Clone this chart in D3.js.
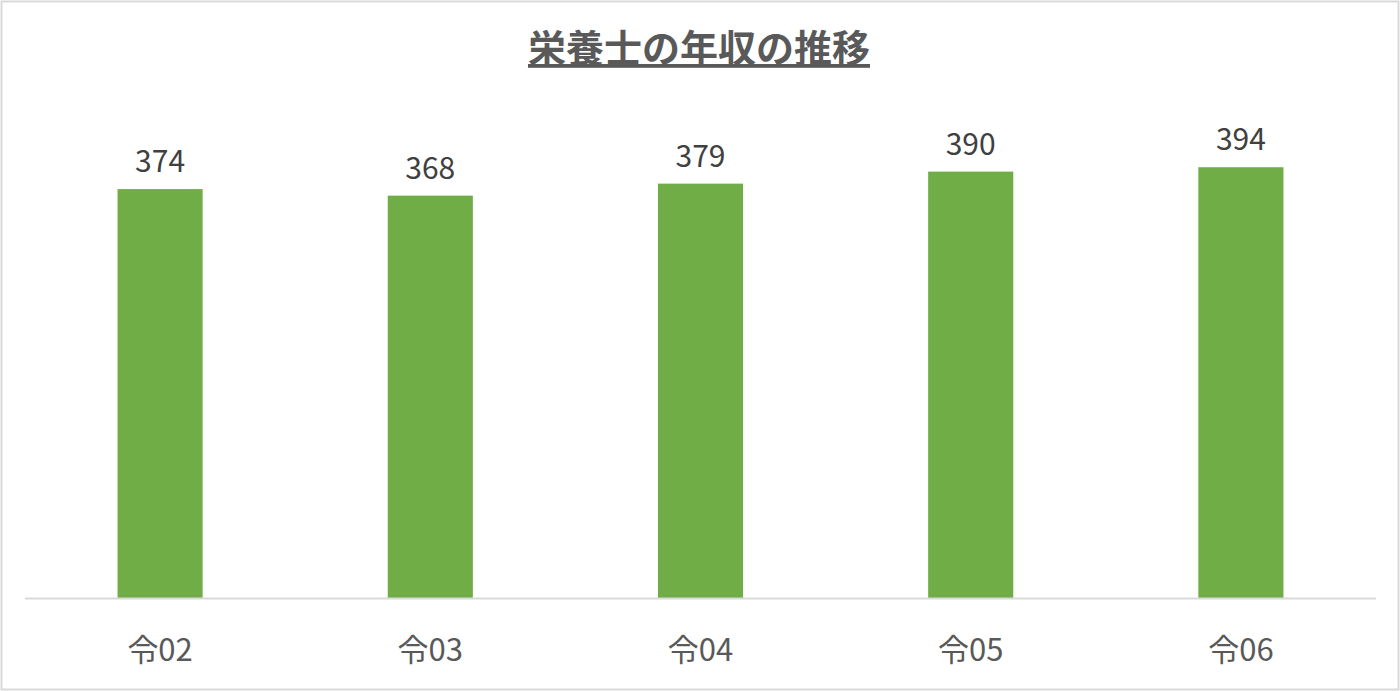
<!DOCTYPE html>
<html>
<head>
<meta charset="utf-8">
<script src="https://cdn.jsdelivr.net/npm/d3@7"></script>
<style>
  body { margin: 0; background: #fff; }
  text { font-family: "Noto Sans CJK JP", "Noto Sans", sans-serif; }
</style>
</head>
<body>
<div id="chart"></div>
<script>
const categories = ["令02", "令03", "令04", "令05", "令06"];
const values = [374, 368, 379, 390, 394];
const title = "栄養士の年収の推移";

const W = 1400, H = 691;
const svg = d3.select("#chart")
  .append("svg")
  .attr("width", W)
  .attr("height", H);

// outer frame
svg.append("rect")
  .attr("x", 1.5).attr("y", 1.5)
  .attr("width", W - 3).attr("height", H - 3)
  .attr("fill", "#fff")
  .attr("stroke", "#d9d9d9")
  .attr("stroke-width", 2);

const x = d3.scaleBand()
  .domain(categories)
  .range([25, 1376])
  .paddingInner(0.685)
  .paddingOuter(0.3425);

const y = d3.scaleLinear()
  .domain([0, 450])
  .range([598, 106]);

// bars
svg.selectAll("rect.bar")
  .data(values)
  .enter()
  .append("rect")
  .attr("class", "bar")
  .attr("x", (d, i) => x(categories[i]))
  .attr("y", d => y(d))
  .attr("width", x.bandwidth())
  .attr("height", d => y(0) - y(d))
  .attr("fill", "#70ad47");

// axis line
svg.append("line")
  .attr("x1", 25).attr("x2", 1376)
  .attr("y1", y(0) + 0.5).attr("y2", y(0) + 0.5)
  .attr("stroke", "#d9d9d9")
  .attr("stroke-width", 2);

// category labels
svg.selectAll("text.cat")
  .data(categories)
  .enter()
  .append("text")
  .attr("class", "cat")
  .attr("x", d => x(d) + x.bandwidth() / 2)
  .attr("y", 661)
  .attr("text-anchor", "middle")
  .attr("fill", "#595959")
  .style("font-size", "31px")
  .text(d => d);

// value labels
svg.selectAll("text.val")
  .data(values)
  .enter()
  .append("text")
  .attr("class", "val")
  .attr("x", (d, i) => x(categories[i]) + x.bandwidth() / 2)
  .attr("y", d => y(d) - 17)
  .attr("text-anchor", "middle")
  .attr("fill", "#404040")
  .style("font-size", "30px")
  .text(d => d);

// title
svg.append("text")
  .attr("x", 699)
  .attr("y", 62)
  .attr("text-anchor", "middle")
  .attr("fill", "#595959")
  .style("font-size", "38px")
  .style("font-weight", "bold")
  .style("text-decoration", "underline")
  .text(title);
</script>
</body>
</html>
